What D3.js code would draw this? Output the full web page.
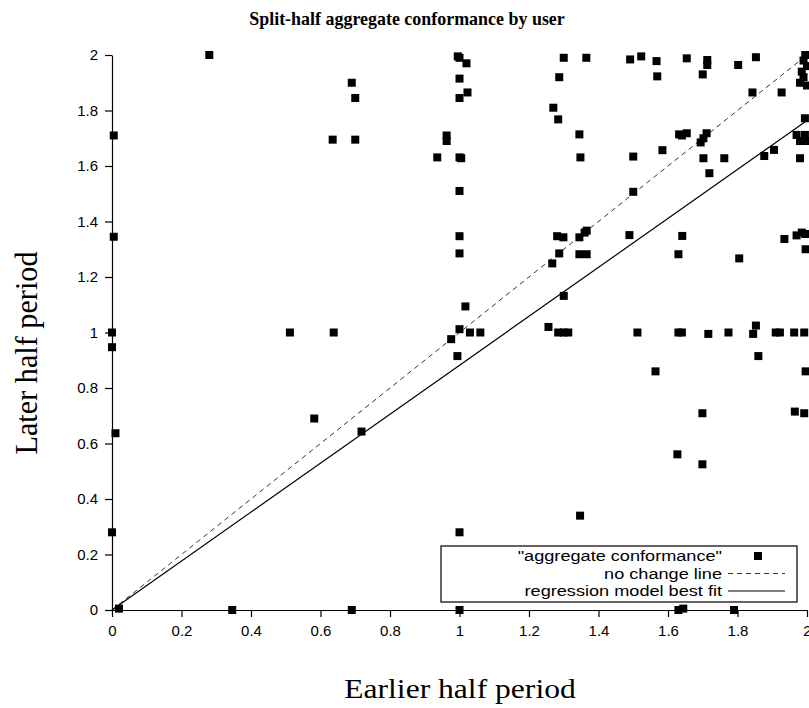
<!DOCTYPE html>
<html>
<head>
<meta charset="utf-8">
<script src="https://cdn.jsdelivr.net/npm/d3@7"></script>
<style>
body { margin: 0; background: #fff; }
.tick text { font-family: "Liberation Sans", Arial, sans-serif; font-size: 15px; fill: #000; }
.domain, .tick line { stroke: #000; stroke-width: 1.2; }
.point { fill: #000; }
.legend-text { font-family: "Liberation Sans", Arial, sans-serif; font-size: 15.5px; }
.serif { font-family: "Liberation Serif", "Times New Roman", serif; }
</style>
</head>
<body>
<script>
'use strict';

// earlier half (x) and later half (y) per user
var earlier = [0.28, 0.69, 0.70, 0.635, 0.70, 0.005, 0.005, 0, 0.512, 0.638,
    0, 0.01, 0, 0.02, 0.346, 0.582, 0.718, 0.69, 1.0, 1.0,
    0.976, 1.0, 1.03, 1.06, 0.994, 0.995, 1.0, 1.02, 1.0, 1.023,
    1.0, 0.963, 0.963, 0.936, 1.0, 1.005, 1.0, 1.30, 1.365, 1.287,
    1.27, 1.284, 1.345, 1.348, 1.0, 1.0, 1.017, 1.281, 1.299, 1.345,
    1.366, 1.36, 1.287, 1.345, 1.366, 1.267, 1.30, 1.256, 1.284, 1.30,
    1.313, 1.491, 1.523, 1.567, 1.654, 1.713, 1.713, 1.569, 1.70, 1.802,
    1.853, 1.843, 1.927, 1.995, 1.99, 2.0, 1.985, 1.99, 1.98, 2.0,
    1.632, 1.654, 1.64, 1.711, 1.702, 1.694, 1.584, 1.50, 1.702, 1.762,
    1.719, 1.50, 1.877, 1.905, 1.98, 1.994, 1.97, 1.994, 1.98, 2.0,
    1.489, 1.641, 1.63, 1.805, 1.935, 1.97, 1.985, 1.995, 1.996, 1.512,
    1.63, 1.64, 1.716, 1.774, 1.853, 1.845, 1.91, 1.922, 1.963, 1.992,
    1.86, 1.564, 1.996, 1.699, 1.965, 1.992, 1.347, 1.627, 1.699, 1.63,
    1.644, 1.79];

var later = [2.0, 1.90, 1.845, 1.695, 1.695, 1.71, 1.345, 1.0, 1.0, 1.0,
    0.947, 0.637, 0.28, 0.005, 0, 0.69, 0.643, 0, 0, 0.28,
    0.976, 1.012, 1.0, 1.0, 0.915, 1.995, 1.99, 1.97, 1.915, 1.865,
    1.845, 1.71, 1.69, 1.631, 1.631, 1.628, 1.51, 1.99, 1.99, 1.92,
    1.81, 1.768, 1.714, 1.631, 1.347, 1.285, 1.094, 1.347, 1.343, 1.343,
    1.367, 1.36, 1.285, 1.282, 1.282, 1.249, 1.132, 1.02, 1.0, 1.0,
    1.0, 1.984, 1.995, 1.978, 1.988, 1.982, 1.964, 1.923, 1.93, 1.964,
    1.992, 1.865, 1.865, 2.0, 1.98, 1.96, 1.94, 1.92, 1.90, 1.89,
    1.714, 1.718, 1.71, 1.718, 1.70, 1.685, 1.657, 1.634, 1.628, 1.628,
    1.574, 1.507, 1.636, 1.658, 1.628, 1.772, 1.712, 1.712, 1.69, 1.69,
    1.351, 1.348, 1.282, 1.267, 1.337, 1.35, 1.36, 1.355, 1.30, 1.0,
    1.0, 1.0, 0.995, 1.0, 1.025, 0.995, 1.0, 1.0, 1.0, 1.0,
    0.915, 0.86, 0.86, 0.709, 0.715, 0.709, 0.34, 0.561, 0.525, 0,
    0.005, 0];

var xTicks = [0, 0.2, 0.4, 0.6, 0.8, 1, 1.2, 1.4, 1.6, 1.8, 2];
var yTicks = [0, 0.2, 0.4, 0.6, 0.8, 1, 1.2, 1.4, 1.6, 1.8, 2];

// regression model best fit: later = intercept + slope * earlier
var fitIntercept = 0.0;
var fitSlope = 0.882;

var legendLabels = ['"aggregate conformance"', 'no change line', 'regression model best fit'];

var chart = {};
chart.width = 809;
chart.height = 708;
chart.left = 112;
chart.right = 807;
chart.top = 55;
chart.bottom = 610;

chart.xScale = d3.scaleLinear().domain([0, 2]).range([chart.left, chart.right]);
chart.yScale = d3.scaleLinear().domain([0, 2]).range([chart.bottom, chart.top]);

chart.appendSvg = function(domObj){
    return d3.select(domObj)
        .append("svg")
        .attr("width", chart.width)
        .attr("height", chart.height);
};

chart.appendAxes = function(svg){
    var fmt = d3.format("");
    svg.append("g")
        .attr("transform", "translate(0," + chart.bottom + ")")
        .call(d3.axisBottom(chart.xScale).tickValues(xTicks).tickFormat(fmt)
            .tickSize(7).tickSizeOuter(0).tickPadding(8));
    svg.append("g")
        .attr("transform", "translate(" + chart.left + ",0)")
        .call(d3.axisLeft(chart.yScale).tickValues(yTicks).tickFormat(fmt)
            .tickSize(7).tickSizeOuter(0).tickPadding(7));
};

chart.appendLines = function(svg){
    var line = d3.line()
        .x(function(d){ return chart.xScale(d[0]); })
        .y(function(d){ return chart.yScale(d[1]); });

    svg.append("path")
        .attr("d", line([[0, 0], [2, 2]]))
        .attr("fill", "none")
        .attr("stroke", "#333")
        .attr("stroke-width", 1)
        .attr("stroke-dasharray", "5,4");

    svg.append("path")
        .attr("d", line([[0, fitIntercept], [2, fitIntercept + 2 * fitSlope]]))
        .attr("fill", "none")
        .attr("stroke", "#000")
        .attr("stroke-width", 1.2);
};

chart.appendPoints = function(svg){
    var size = 8;
    svg.selectAll(".point")
        .data(earlier)
        .enter()
            .append("rect")
            .classed("point", true)
            .attr("x", function(d){ return chart.xScale(d) - size / 2; })
            .attr("y", function(d, i){ return chart.yScale(later[i]) - size / 2; })
            .attr("width", size)
            .attr("height", size);
};

chart.appendLegend = function(svg){
    var g = svg.append("g");
    g.append("rect")
        .attr("x", 441).attr("y", 546)
        .attr("width", 356).attr("height", 56)
        .attr("fill", "#fff")
        .attr("stroke", "#000")
        .attr("stroke-width", 1.2);

    var rowY = [556, 573.5, 591];
    g.selectAll(".legend-text")
        .data(legendLabels)
        .enter()
            .append("text")
            .classed("legend-text", true)
            .attr("text-anchor", "end")
            .attr("transform", function(d, i){
                return "translate(722," + (rowY[i] + 5) + ") scale(1.17,1)";
            })
            .text(function(d){ return d; });

    g.append("rect")
        .attr("x", 754).attr("y", rowY[0] - 4)
        .attr("width", 8).attr("height", 8)
        .attr("fill", "#000");
    g.append("line")
        .attr("x1", 728).attr("x2", 785)
        .attr("y1", rowY[1]).attr("y2", rowY[1])
        .attr("stroke", "#333").attr("stroke-dasharray", "5,4");
    g.append("line")
        .attr("x1", 728).attr("x2", 785)
        .attr("y1", rowY[2]).attr("y2", rowY[2])
        .attr("stroke", "#000").attr("stroke-width", 1.2);
};

chart.appendTitles = function(svg){
    svg.append("text")
        .classed("serif", true)
        .attr("transform", "translate(407,25) scale(0.97,1)")
        .attr("text-anchor", "middle")
        .attr("font-weight", "bold")
        .attr("font-size", 18.5)
        .text("Split-half aggregate conformance by user");

    svg.append("text")
        .classed("serif", true)
        .attr("transform", "translate(460,698) scale(1.17,1)")
        .attr("text-anchor", "middle")
        .attr("font-size", 27)
        .text("Earlier half period");

    svg.append("text")
        .classed("serif", true)
        .attr("transform", "translate(37,353) rotate(-90) scale(1.12,1.2)")
        .attr("text-anchor", "middle")
        .attr("font-size", 27)
        .text("Later half period");
};

chart.run = function(){
    var svg = chart.appendSvg("body");
    chart.appendAxes(svg);
    chart.appendLines(svg);
    chart.appendPoints(svg);
    chart.appendLegend(svg);
    chart.appendTitles(svg);
};

window.onload = chart.run;
</script>
</body>
</html>
